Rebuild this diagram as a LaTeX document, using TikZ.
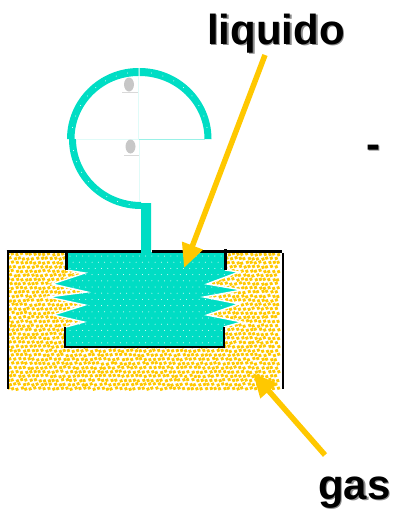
\documentclass[tikz,border=0pt]{standalone}
\usepackage{fontspec}
\setmainfont{Liberation Sans}
\usepackage{tikz}
\usetikzlibrary{arrows.meta, shapes.geometric}
\definecolor{liquidcol}{HTML}{00DDC4}
\definecolor{gascol}{HTML}{FFC800}

\begin{document}
\begin{tikzpicture}[
    x=1pt, y=-1pt,
    bigtext/.style={font=\fontsize{42}{42}\selectfont\bfseries, inner sep=0pt, anchor=base},
    bigshadow/.style={bigtext, text=black!45},
    wall/.style={draw=black, line width=2.7pt},
    guide/.style={draw=liquidcol!12, line width=0.7pt},
    blob/.style={ellipse, fill=black!22, minimum width=10pt, minimum height=14pt, inner sep=0pt},
    pointer/.style={draw=gascol, line width=5.5pt, -{Triangle[length=24pt, width=21pt]}},
  ]
  \useasboundingbox (0,0) rectangle (394,509);
  \pgfmathsetseed{7}

  % gas chamber
  \begin{scope}
    \clip (8,252) -- (282,252) -- (282,390) -- (8,390) -- cycle;
    \foreach \row in {0,...,33}{
      \foreach \col in {0,...,60}{
        \pgfmathsetmacro{\dotx}{6+\col*4.5+mod(\row,2)*2.25+rand*0.7}
        \pgfmathsetmacro{\doty}{250+\row*4.2+rand*0.7}
        \fill[gascol, rotate around={20:(\dotx,\doty)}] (\dotx-1.45,\doty-1.45) rectangle +(2.9,2.9);
      }
    }
  \end{scope}

  % liquid with its bellows
  \fill[liquidcol] (66,252) -- (66,270) -- (85,273) -- (52,284) -- (87,292) -- (48,297)
    -- (85,305) -- (53,315) -- (84,322) -- (66,327) -- (65,347) -- (224,347) -- (224,327)
    -- (242,322) -- (207,315) -- (239,304) -- (204,297) -- (242,290) -- (207,284)
    -- (239,272) -- (225,270) -- (225,252) -- (151,252) -- (151,203) -- (141,203) -- (141,252) -- cycle;
  \draw[white, line width=1.4pt] (66,270) -- (85,273) -- (52,284) -- (87,292)
    -- (48,297) -- (85,305) -- (53,315) -- (84,322) -- (66,327);
  \draw[white, line width=1.4pt] (224,327) -- (242,322) -- (207,315) -- (239,304)
    -- (204,297) -- (242,290) -- (207,284) -- (239,272) -- (225,270);
  \foreach \row in {0,...,14}{
    \pgfmathsetmacro{\rowshift}{mod(\row,2)*3.15}
    \foreach \col in {0,...,24}{
      \fill[white] (70+\col*6.3+\rowshift,256+\row*6.2) circle[radius=0.5pt];
    }
  }

  % spiral
  \fill[liquidcol] (67,139) arc[start angle=180, end angle=90, x radius=71.5pt, y radius=71pt]
    -- (138.5,76) arc[start angle=90, end angle=180, x radius=64pt, y radius=63pt] -- cycle;
  \fill[liquidcol] (139.5,68) arc[start angle=90, end angle=0, x radius=72pt, y radius=71pt]
    -- (204.5,139) arc[start angle=0, end angle=90, x radius=65pt, y radius=63pt] -- cycle;
  \fill[liquidcol] (69,139) arc[start angle=180, end angle=270, x radius=72pt, y radius=70pt]
    -- (141,202) arc[start angle=270, end angle=180, x radius=65pt, y radius=63pt] -- cycle;
  \foreach \ang in {100,110,...,170}{
    \fill[white] (139.5,139)++(\ang:68pt and 67pt) circle[radius=0.5pt];
  }
  \foreach \ang in {10,20,...,80}{
    \fill[white] (139.5,139)++(\ang:68.5pt and 67pt) circle[radius=0.5pt];
  }
  \foreach \ang in {190,200,...,260}{
    \fill[white] (141,139)++(\ang:68.5pt and 66.5pt) circle[radius=0.5pt];
  }

  \draw[guide] (138.5,76) -- (138.5,139);
  \draw[guide] (76,139) -- (139,139);
  \draw[guide] (139.5,139) -- (139.5,202);
  \draw[draw=liquidcol!40, line width=0.7pt] (139,139) -- (205,139);

  \node[blob] (blobtop) at (129,84.5) {};
  \node[blob] (blobmid) at (130.5,146.5) {};
  \draw[black!15, line width=0.8pt] (122,92.5) -- (138,92.5);
  \draw[black!15, line width=0.8pt] (124,155) -- (139,155);

  % walls
  \draw[wall] (6.5,251.5) -- (141,251.5);
  \draw[wall] (152,251.5) -- (282,251.5);
  \draw[wall] (8,252) -- (8,389);
  \draw[wall] (283,253) -- (283,389);
  \draw[wall] (66.5,251) -- (66.5,270);
  \draw[wall] (225.5,249) -- (225.5,270);
  \draw[wall] (65,327) -- (65,347) -- (224,347) -- (224,327);

  % labels
  \node[bigshadow] (liquidoshadow) at (277.5,45.5) {liquido};
  \node[bigtext] (liquido) at (276,44) {liquido};
  \node[bigshadow] (gasshadow) at (356,500.5) {gas};
  \node[bigtext] (gaslabel) at (354.5,499) {gas};
  \node[bigshadow] (dashshadow) at (374.5,159.5) {-};
  \node[bigtext] (dash) at (373,158) {-};

  % pointers
  \coordinate (liquidotail) at (265,55);
  \coordinate (liquidotip) at (184,268);
  \coordinate (gastail) at (325,455);
  \coordinate (gastip) at (253,373);
  \draw[pointer] (liquidotail) -- (liquidotip);
  \draw[pointer] (gastail) -- (gastip);
\end{tikzpicture}
\end{document}
